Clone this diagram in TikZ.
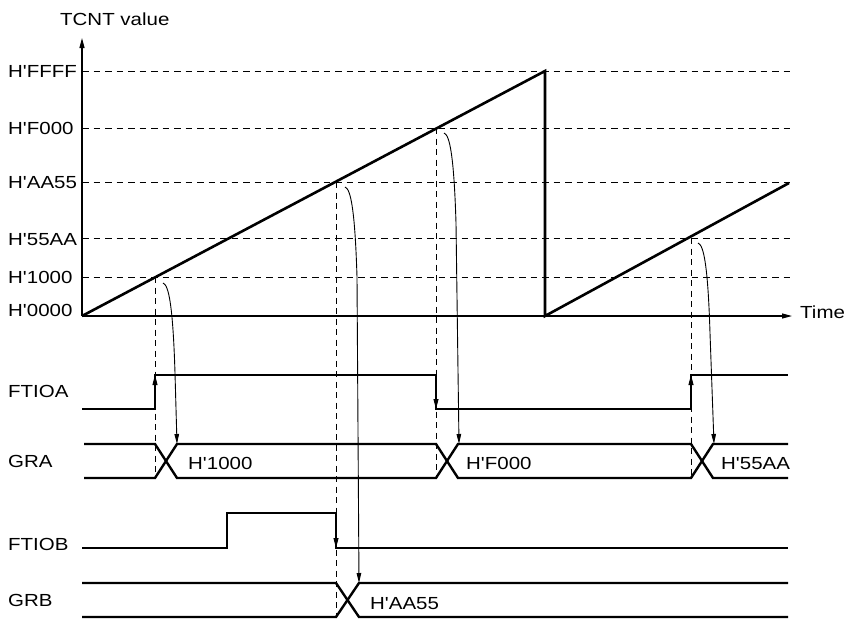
\documentclass[tikz,border=0pt]{standalone}
\usepackage{fontspec}
\newfontfamily\lsans{Liberation Sans}[FakeStretch=1.17]
\usetikzlibrary{arrows.meta,calc}
\begin{document}
\begin{tikzpicture}[x=1pt,y=-1pt,
  lbl/.style={anchor=base west,inner sep=0pt,font=\lsans\fontsize{17.5}{20}\selectfont},
  sig/.style={line width=2.4pt,line join=miter},
  ramp/.style={line width=2.6pt,line join=miter},
  grid/.style={line width=0.9pt,dash pattern=on 6.5pt off 5pt},
  vgrid/.style={line width=0.9pt,dash pattern=on 6pt off 4.5pt},
  axis/.style={line width=1.1pt,-{Triangle[length=10pt,width=5pt]}},
  carrow/.style={line width=0.9pt,-{Triangle[length=10pt,width=4.5pt]}},
  edgearr/.style={line width=0.9pt,-{Triangle[length=10pt,width=5pt]}}]
\useasboundingbox (0,0) rectangle (849,619);
% axes
\coordinate (O) at (82,316);
\coordinate (Ytop) at (82,38);
\coordinate (Xend) at (792,316);
\draw[axis] (O) -- (Ytop);
\draw[axis] (O) -- (Xend);
\node[lbl] (tcnt) at (60,25) {TCNT value};
\node[lbl] (time) at (800,318) {Time};
% level labels
\node[lbl] (lFFFF) at (8,77) {H'FFFF};
\node[lbl] (lF000) at (8,134) {H'F000};
\node[lbl] (lAA55) at (8,188) {H'AA55};
\node[lbl] (l55AA) at (8,245) {H'55AA};
\node[lbl] (l1000) at (8,283) {H'1000};
\node[lbl] (l0000) at (8,316) {H'0000};
% horizontal dashed levels
\foreach \yy in {71,128,182,238,277}
  \draw[grid] (82,\yy) -- (790,\yy);
% ramps
\coordinate (pk) at (545,71);
\coordinate (rz) at (545,316);
\coordinate (r2end) at (789,183);
\draw[ramp] (O) -- (pk) -- (rz) -- (r2end);
% intersection points
\coordinate (i1) at (155,277);
\coordinate (i2) at (336,182);
\coordinate (i3) at (436,128);
\coordinate (i4) at (691,238);
% vertical dashed lines
\draw[vgrid] (i1) -- (155,478);
\draw[vgrid] (i2) -- (336,617);
\draw[vgrid] (i3) -- (436,478);
\draw[vgrid] (i4) -- (691,478);
% signal labels
\node[lbl] (nFTIOA) at (8,397) {FTIOA};
\node[lbl] (nGRA) at (8,467) {GRA};
\node[lbl] (nFTIOB) at (8,550) {FTIOB};
\node[lbl] (nGRB) at (8,606) {GRB};
% FTIOA
\draw[sig] (82,409) -- (155,409) -- (155,375) -- (436,375) -- (436,409) -- (691,409) -- (691,375) -- (788,375);
\draw[edgearr] (155,392) -- (155,375);
\draw[edgearr] (436,392) -- (436,409);
\draw[edgearr] (691,392) -- (691,375);
% GRA
\draw[sig] (84,444) -- (155,444) -- (177,478) -- (436,478) -- (458,444) -- (691,444) -- (713,478) -- (788,478);
\draw[sig] (84,478) -- (155,478) -- (177,444) -- (436,444) -- (458,478) -- (691,478) -- (713,444) -- (788,444);
\node[lbl] (v1000) at (188,469) {H'1000};
\node[lbl] (vF000) at (466,469) {H'F000};
\node[lbl] (v55AA) at (721,469) {H'55AA};
% FTIOB
\draw[sig] (82,548) -- (227,548) -- (227,513) -- (336,513) -- (336,548) -- (788,548);
\draw[edgearr] (336,530) -- (336,548);
% GRB
\draw[sig] (82,583) -- (336,583) -- (359,617) -- (788,617);
\draw[sig] (82,617) -- (336,617) -- (359,583) -- (788,583);
\node[lbl] (vAA55) at (370,609) {H'AA55};
% curved arrows
\coordinate (s1) at (163,283); \coordinate (e1) at (177,444);
\coordinate (s2) at (345,187); \coordinate (e2) at (359,583);
\coordinate (s3) at (444,133); \coordinate (e3) at (459,444);
\coordinate (s4) at (698,243); \coordinate (e4) at (714,444);
\foreach \k in {1,2,3,4}
  \draw[carrow] (s\k) .. controls ($(s\k)+(6,2)$) and ($(s\k)+(10,25)$) .. ($(s\k)+(12,90)$) -- (e\k);
\end{tikzpicture}
\end{document}
